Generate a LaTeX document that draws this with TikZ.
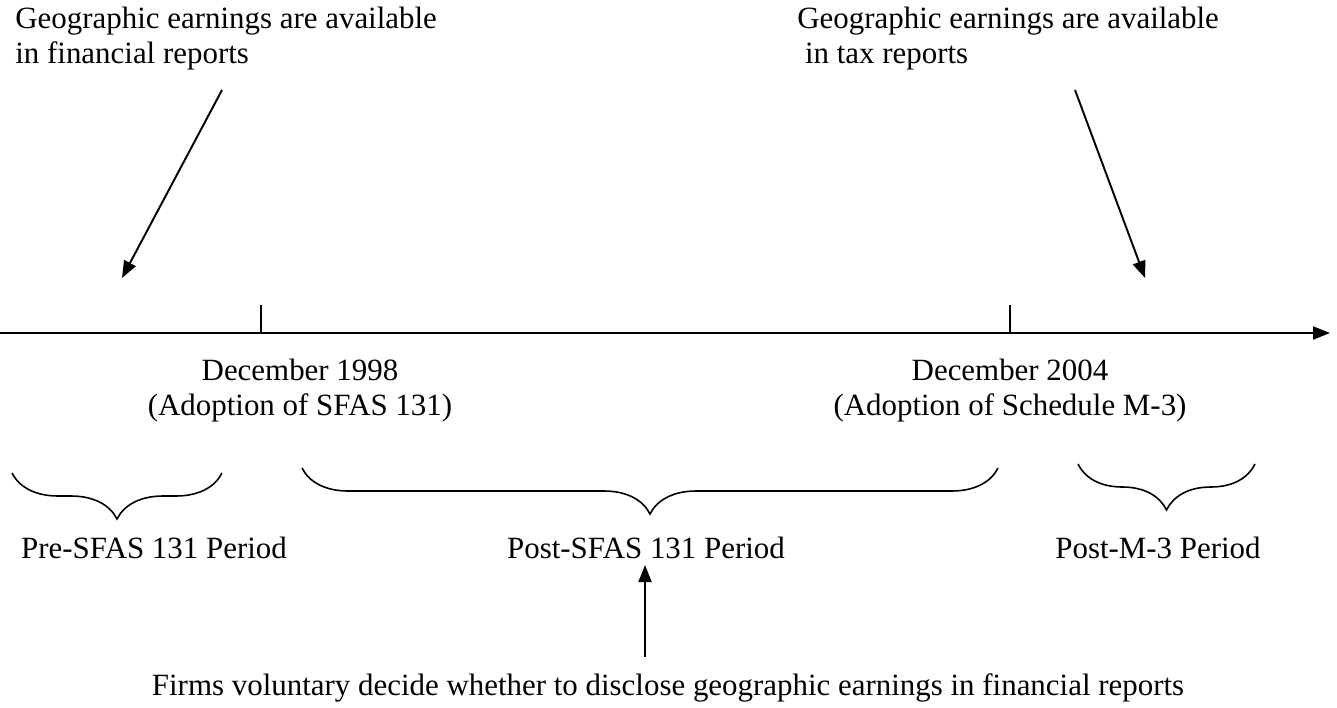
\documentclass[tikz,border=0pt]{standalone}
\usepackage{fontspec}
\setmainfont{Liberation Serif}
\usetikzlibrary{arrows.meta,positioning,calc,decorations.pathreplacing}

\tikzset{
	txt/.style={inner sep=0pt, font=\fontsize{17.6}{19.9}\selectfont},
	pointer/.style={line width=1.1pt, -{Triangle[length=3.4mm,width=2.6mm]}},
	period/.style={line width=0.9pt, decorate, decoration={brace,mirror,amplitude=0.92cm}},
}

\begin{document}
\begin{tikzpicture}[x=0.02cm,y=-0.02cm]
	\useasboundingbox (0,0) rectangle (1337,707);
	
	% time axis
	\coordinate (start) at (0,333);
	\coordinate (stop) at (1330,333);
	\draw[pointer] (start) -- (stop);
	
	% event ticks
	\coordinate (t1998) at (261,333);
	\coordinate (t2004) at (1010,333);
	\draw[line width=1.1pt] (t1998) -- ++(0,-28);
	\draw[line width=1.1pt] (t2004) -- ++(0,-28);
	
	% disclosure sources (base = last line)
	\node[txt, anchor=base west, align=left] (fin) at (15,63)
		{Geographic earnings are available\\in financial reports};
	\node[txt, anchor=base west, align=left] (tax) at (797,63)
		{Geographic earnings are available\\\ in tax reports};
	\coordinate (finend) at (122,278);
	\coordinate (taxend) at (1145,278);
	\draw[pointer] (222,90) -- (finend);
	\draw[pointer] (1075,90) -- (taxend);
	
	% dates
	\node[txt, anchor=base, align=center] (d1998) at (300,415)
		{December 1998\\(Adoption of SFAS 131)};
	\node[txt, anchor=base, align=center] (d2004) at (1010,415)
		{December 2004\\(Adoption of Schedule M-3)};
	
	% periods
	\draw[period] (12,473) -- (222,473);
	\draw[period] (302,468) -- (998,468);
	\draw[period] (1078,464) -- (1255,464);
	
	\node[txt, anchor=base] (pre) at (154,558) {Pre-SFAS 131 Period};
	\node[txt, anchor=base] (post) at (646,558) {Post-SFAS 131 Period};
	\node[txt, anchor=base] (m3) at (1158,558) {Post-M-3 Period};
	
	% voluntary choice
	\node[txt, anchor=base] (vol) at (668,695)
		{Firms voluntary decide whether to disclose geographic earnings in financial reports};
	\coordinate (volend) at (645,565);
	\draw[pointer] (645,657) -- (volend);
\end{tikzpicture}
\end{document}
